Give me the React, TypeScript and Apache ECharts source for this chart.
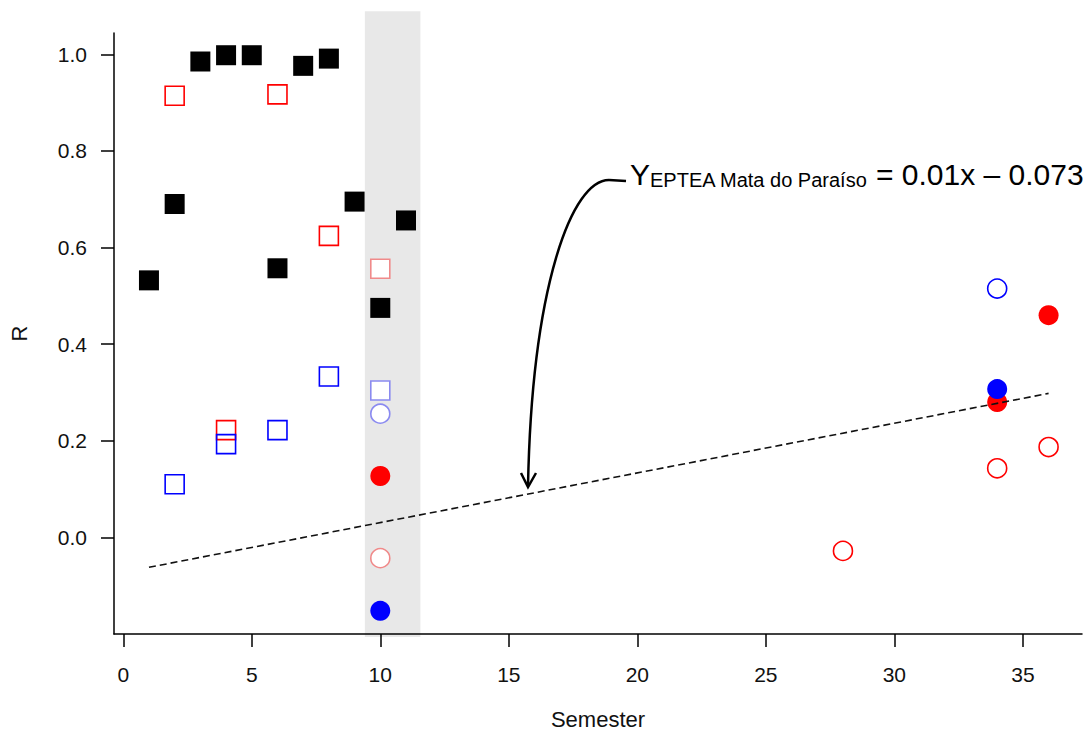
import React, { useEffect, useRef } from "react";
import * as echarts from "echarts";

// ---- data ----
const xTicks = [0, 5, 10, 15, 20, 25, 30, 35];
const yTicks = [0, 0.2, 0.4, 0.6, 0.8, 1.0];

const blackSquares = [
  [1, 0.532], [2, 0.690], [3, 0.985], [4, 0.998], [5, 0.998], [6, 0.557],
  [7, 0.976], [8, 0.991], [9, 0.695], [10, 0.475], [11, 0.656],
];
const redOpenSquares = [[2, 0.914], [4, 0.222], [6, 0.917], [8, 0.624]];
const blueOpenSquares = [[2, 0.110], [4, 0.193], [6, 0.222], [8, 0.333]];
const lightRedOpenSquares = [[10, 0.556]];
const lightBlueOpenSquares = [[10, 0.304]];
const lightBlueOpenCircles = [[10, 0.256]];
const lightRedOpenCircles = [[10, -0.043]];
const redFilledCircles = [[10, 0.127], [34, 0.280], [36, 0.460]];
const blueFilledCircles = [[10, -0.152], [34, 0.307]];
const redOpenCircles = [[28, -0.028], [34, 0.143], [36, 0.187]];
const blueOpenCircles = [[34, 0.515]];
const fitLine = [[1, -0.062], [36, 0.298]];
const shadeX = [9.4, 11.56];
const shadeY = [-0.206, 1.089];

const FONT = "'Liberation Sans', Arial, Helvetica, sans-serif";

export default function App() {
  const ref = useRef<HTMLDivElement>(null);

  useEffect(() => {
    if (!ref.current) return;
    const chart = echarts.init(ref.current, undefined, { renderer: "svg" });

    const sq = 19;
    const circ = 19;
    const hollow = (color: string, fill = "transparent") => ({
      color: fill,
      borderColor: color,
      borderWidth: 1.6,
      opacity: 1,
    });
    const solid = (color: string) => ({ color, opacity: 1 });

    const option: any = {
      animation: false,
      backgroundColor: "#ffffff",
      textStyle: { fontFamily: FONT },
      grid: { left: 114, right: 9, top: 33, bottom: 100, containLabel: false },
      xAxis: {
        type: "value",
        min: -0.36,
        max: 37.3,
        name: "Semester",
        nameLocation: "middle",
        nameGap: 74,
        nameTextStyle: { color: "#111", fontSize: 22, fontFamily: FONT },
        splitLine: { show: false },
        axisLine: { show: true, onZero: false, lineStyle: { color: "#000", width: 1.5 } },
        axisTick: {
          show: true,
          length: 13,
          customValues: xTicks,
          lineStyle: { color: "#000", width: 1.5 },
        },
        axisLabel: {
          customValues: xTicks,
          margin: 30,
          color: "#111",
          fontSize: 21,
          fontFamily: FONT,
          formatter: (v: number) => String(v),
        },
      },
      yAxis: {
        type: "value",
        min: -0.2,
        max: 1.044,
        name: "R",
        nameLocation: "middle",
        nameGap: 84,
        nameTextStyle: { color: "#111", fontSize: 22, fontFamily: FONT },
        splitLine: { show: false },
        axisLine: { show: true, onZero: false, lineStyle: { color: "#000", width: 1.5 } },
        axisTick: {
          show: true,
          length: 13,
          customValues: yTicks,
          lineStyle: { color: "#000", width: 1.5 },
        },
        axisLabel: {
          customValues: yTicks,
          margin: 27,
          color: "#111",
          fontSize: 21,
          fontFamily: FONT,
          formatter: (v: number) => v.toFixed(1),
        },
      },
      series: [
        {
          type: "scatter", name: "black squares", symbol: "rect", symbolSize: 20,
          itemStyle: solid("#000000"), data: blackSquares, z: 3,
        },
        {
          type: "scatter", name: "red open squares", symbol: "rect", symbolSize: sq,
          itemStyle: hollow("#ff0000"), data: redOpenSquares, z: 3,
        },
        {
          type: "scatter", name: "blue open squares", symbol: "rect", symbolSize: sq,
          itemStyle: hollow("#0000ff"), data: blueOpenSquares, z: 3,
        },
        {
          type: "scatter", name: "light red open squares", symbol: "rect", symbolSize: sq,
          itemStyle: hollow("#f08a8a", "#ffffff"), data: lightRedOpenSquares, z: 3,
        },
        {
          type: "scatter", name: "light blue open squares", symbol: "rect", symbolSize: sq,
          itemStyle: hollow("#8a8af0", "#ffffff"), data: lightBlueOpenSquares, z: 3,
        },
        {
          type: "scatter", name: "light blue open circles", symbol: "circle", symbolSize: circ,
          itemStyle: hollow("#8a8af0", "#ffffff"), data: lightBlueOpenCircles, z: 3,
        },
        {
          type: "scatter", name: "light red open circles", symbol: "circle", symbolSize: circ,
          itemStyle: hollow("#f08a8a", "#ffffff"), data: lightRedOpenCircles, z: 3,
        },
        {
          type: "scatter", name: "red filled circles", symbol: "circle", symbolSize: 20,
          itemStyle: solid("#ff0000"), data: redFilledCircles, z: 3,
        },
        {
          type: "scatter", name: "blue filled circles", symbol: "circle", symbolSize: 20,
          itemStyle: solid("#0000ff"), data: blueFilledCircles, z: 4,
        },
        {
          type: "scatter", name: "red open circles", symbol: "circle", symbolSize: circ,
          itemStyle: hollow("#ff0000"), data: redOpenCircles, z: 3,
        },
        {
          type: "scatter", name: "blue open circles", symbol: "circle", symbolSize: circ,
          itemStyle: hollow("#0000ff"), data: blueOpenCircles, z: 3,
        },
        {
          type: "line", name: "fit", data: fitLine, showSymbol: false, symbol: "none",
          lineStyle: { color: "#111", width: 1.6, type: [7, 4] }, z: 5,
        },
      ],
    };

    chart.setOption(option);

    const p1 = chart.convertToPixel({ gridIndex: 0 }, [shadeX[0], shadeY[1]]) as number[];
    const p2 = chart.convertToPixel({ gridIndex: 0 }, [shadeX[1], shadeY[0]]) as number[];

    const bigBaseline = 185;
    const subBaseline = 187;
    const big = 30;
    const sub = 20;
    const central = 0.3465;

    chart.setOption({
      graphic: [
        {
          type: "rect",
          z: -10,
          silent: true,
          shape: { x: p1[0], y: p1[1], width: p2[0] - p1[0], height: p2[1] - p1[1] },
          style: { fill: "#e8e8e8" },
        },
        {
          type: "text",
          z: 10,
          style: {
            text: "Y", x: 630, y: bigBaseline - central * big, fontSize: big,
            fontFamily: FONT, fill: "#000", align: "left", verticalAlign: "middle",
          },
        },
        {
          type: "text",
          z: 10,
          style: {
            text: "EPTEA Mata do Paraíso", x: 650, y: subBaseline - central * sub, fontSize: sub,
            fontFamily: FONT, fill: "#000", align: "left", verticalAlign: "middle",
          },
        },
        {
          type: "text",
          z: 10,
          style: {
            text: "= 0.01x – 0.073", x: 876, y: bigBaseline - central * big, fontSize: big,
            fontFamily: FONT, fill: "#000", align: "left", verticalAlign: "middle",
          },
        },
        {
          type: "line",
          z: 10,
          shape: { x1: 626, y1: 181, x2: 609, y2: 180 },
          style: { stroke: "#000", lineWidth: 2.5, fill: null },
        },
        {
          type: "bezierCurve",
          z: 10,
          shape: { x1: 609, y1: 180, cpx1: 572, cpy1: 180, cpx2: 532, cpy2: 285, x2: 528, y2: 486 },
          style: { stroke: "#000", lineWidth: 2.5, fill: null },
        },
        {
          type: "polyline",
          z: 10,
          shape: { points: [[521, 473], [528, 487], [536, 473]] },
          style: { stroke: "#000", lineWidth: 2.5, fill: null },
        },
      ],
    });

    return () => chart.dispose();
  }, []);

  return (
    <div
      ref={ref}
      style={{ position: "absolute", left: 0, top: 0, width: 1091, height: 735, background: "#fff" }}
    />
  );
}
